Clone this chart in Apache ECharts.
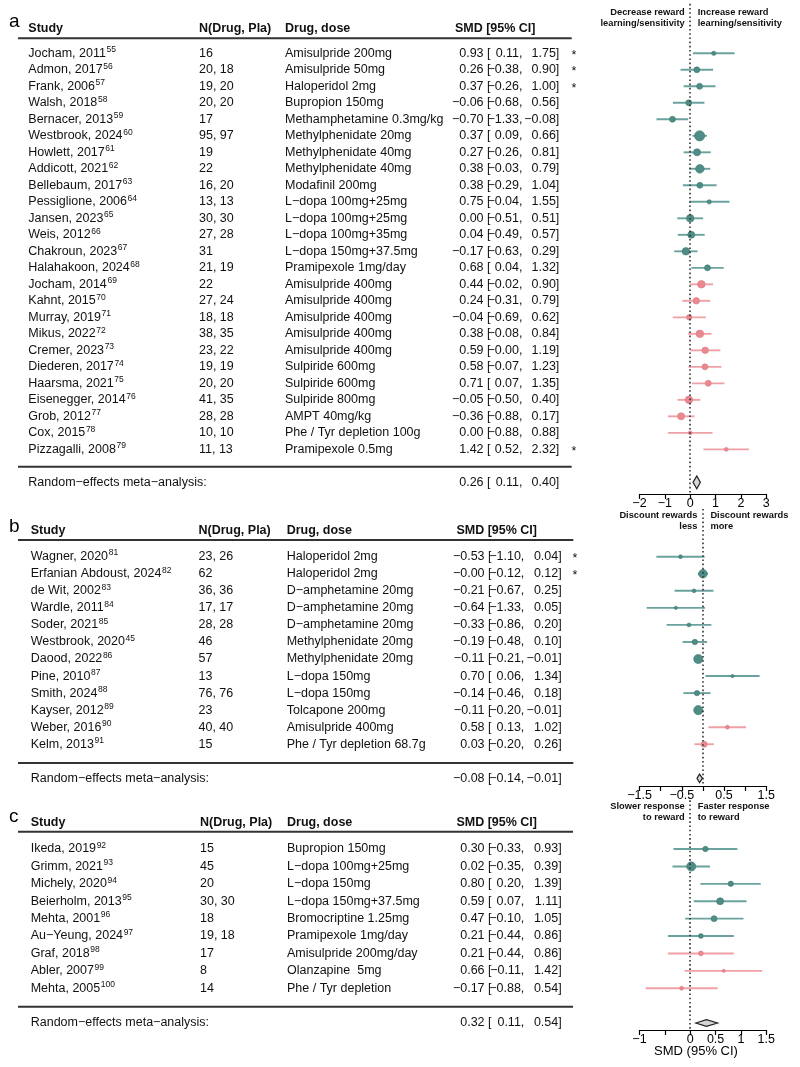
<!DOCTYPE html>
<html><head><meta charset="utf-8">
<script src="https://cdn.jsdelivr.net/npm/echarts@6/dist/echarts.min.js"></script>
<style>html,body{margin:0;padding:0;background:#fff}#c{width:800px;height:1067px}</style>
</head><body><div id="c"></div>
<script>
// ---------------- DATA ----------------
// Panel a: reward learning / sensitivity
const studyA = ['Jocham, 2011','Admon, 2017','Frank, 2006','Walsh, 2018','Bernacer, 2013','Westbrook, 2024','Howlett, 2017','Addicott, 2021','Bellebaum, 2017','Pessiglione, 2006','Jansen, 2023','Weis, 2012','Chakroun, 2023','Halahakoon, 2024','Jocham, 2014','Kahnt, 2015','Murray, 2019','Mikus, 2022','Cremer, 2023','Diederen, 2017','Haarsma, 2021','Eisenegger, 2014','Grob, 2012','Cox, 2015','Pizzagalli, 2008'];
const refA = [55,56,57,58,59,60,61,62,63,64,65,66,67,68,69,70,71,72,73,74,75,76,77,78,79];
const nA = ['16','20, 18','19, 20','20, 20','17','95, 97','19','22','16, 20','13, 13','30, 30','27, 28','31','21, 19','22','27, 24','18, 18','38, 35','23, 22','19, 19','20, 20','41, 35','28, 28','10, 10','11, 13'];
const drugA = ['Amisulpride 200mg','Amisulpride 50mg','Haloperidol 2mg','Bupropion 150mg','Methamphetamine 0.3mg/kg','Methylphenidate 20mg','Methylphenidate 40mg','Methylphenidate 40mg','Modafinil 200mg','L\u2212dopa 100mg+25mg','L\u2212dopa 100mg+25mg','L\u2212dopa 100mg+35mg','L\u2212dopa 150mg+37.5mg','Pramipexole 1mg/day','Amisulpride 400mg','Amisulpride 400mg','Amisulpride 400mg','Amisulpride 400mg','Amisulpride 400mg','Sulpiride 600mg','Sulpiride 600mg','Sulpiride 800mg','AMPT 40mg/kg','Phe / Tyr depletion 100g','Pramipexole 0.5mg'];
const estA = [0.93,0.26,0.37,-0.06,-0.70,0.37,0.27,0.38,0.38,0.75,0.00,0.04,-0.17,0.68,0.44,0.24,-0.04,0.38,0.59,0.58,0.71,-0.05,-0.36,0.00,1.42];
const loA  = [0.11,-0.38,-0.26,-0.68,-1.33,0.09,-0.26,-0.03,-0.29,-0.04,-0.51,-0.49,-0.63,0.04,-0.02,-0.31,-0.69,-0.08,-0.00,-0.07,0.07,-0.50,-0.88,-0.88,0.52];
const hiA  = [1.75,0.90,1.00,0.56,-0.08,0.66,0.81,0.79,1.04,1.55,0.51,0.57,0.29,1.32,0.90,0.79,0.62,0.84,1.19,1.23,1.35,0.40,0.17,0.88,2.32];
const starA = [1,1,1,0,0,0,0,0,0,0,0,0,0,0,0,0,0,0,0,0,0,0,0,0,1];
const classA = ['up','up','up','up','up','up','up','up','up','up','up','up','up','up','down','down','down','down','down','down','down','down','down','down','down'];
const weightA = [4,7.6,7.6,7.6,7.6,22.6,10.6,16,7.6,4,12.3,10.6,12.3,7.6,12.3,9,6.3,12.3,9,7.6,7.6,12.3,10.6,3.1,3.1];
const summaryA = [0.26,0.11,0.40];

// Panel b: discounting
const studyB = ['Wagner, 2020','Erfanian Abdoust, 2024','de Wit, 2002','Wardle, 2011','Soder, 2021','Westbrook, 2020','Daood, 2022','Pine, 2010','Smith, 2024','Kayser, 2012','Weber, 2016','Kelm, 2013'];
const refB = [81,82,83,84,85,45,86,87,88,89,90,91];
const nB = ['23, 26','62','36, 36','17, 17','28, 28','46','57','13','76, 76','23','40, 40','15'];
const drugB = ['Haloperidol 2mg','Haloperidol 2mg','D\u2212amphetamine 20mg','D\u2212amphetamine 20mg','D\u2212amphetamine 20mg','Methylphenidate 20mg','Methylphenidate 20mg','L\u2212dopa 150mg','L\u2212dopa 150mg','Tolcapone 200mg','Amisulpride 400mg','Phe / Tyr depletion 68.7g'];
const estB = [-0.53,-0.00,-0.21,-0.64,-0.33,-0.19,-0.11,0.70,-0.14,-0.11,0.58,0.03];
const loB  = [-1.10,-0.12,-0.67,-1.33,-0.86,-0.48,-0.21,0.06,-0.46,-0.20,0.13,-0.20];
const hiB  = [0.04,0.12,0.25,0.05,0.20,0.10,-0.01,1.34,0.18,-0.01,1.02,0.26];
const starB = [1,1,0,0,0,0,0,0,0,0,0,0];
const classB = ['up','up','up','up','up','up','up','up','up','up','down','down'];
const weightB = [3.1,16,3.1,2.3,3.1,6.3,18,2.3,6.3,18,3.1,7.6];
const summaryB = [-0.08,-0.14,-0.01];

// Panel c: response vigour
const studyC = ['Ikeda, 2019','Grimm, 2021','Michely, 2020','Beierholm, 2013','Mehta, 2001','Au\u2212Yeung, 2024','Graf, 2018','Abler, 2007','Mehta, 2005'];
const refC = [92,93,94,95,96,97,98,99,100];
const nC = ['15','45','20','30, 30','18','19, 18','17','8','14'];
const drugC = ['Bupropion 150mg','L\u2212dopa 100mg+25mg','L\u2212dopa 150mg','L\u2212dopa 150mg+37.5mg','Bromocriptine 1.25mg','Pramipexole 1mg/day','Amisulpride 200mg/day','Olanzapine  5mg','Phe / Tyr depletion'];
const estC = [0.30,0.02,0.80,0.59,0.47,0.21,0.21,0.66,-0.17];
const loC  = [-0.33,-0.35,0.20,0.07,-0.10,-0.44,-0.44,-0.11,-0.88];
const hiC  = [0.93,0.39,1.39,1.11,1.05,0.86,0.86,1.42,0.54];
const starC = [0,0,0,0,0,0,0,0,0];
const classC = ['up','up','up','up','up','up','down','down','down'];
const weightC = [6.3,18,6.3,10.6,7.6,5,5,2.3,3.1];
const summaryC = [0.32,0.11,0.54];

const ticksA = [-2,-1,0,1,2,3];
const ticksB = [-1.5,-0.5,0.5,1.5];
const ticksC = [-1,0,0.5,1,1.5];

const dirA = [['Decrease reward','learning/sensitivity'],['Increase reward','learning/sensitivity']];
const dirB = [['Discount rewards','less'],['Discount rewards','more']];
const dirC = [['Slower response','to reward'],['Faster response','to reward']];

// ---------------- LAYOUT / STYLE ----------------
const FONT = '"Liberation Sans", Arial, Helvetica, sans-serif';
const COL = {
  up:   {fill:'#4f8c86', line:'#6aa39d', edge:'#3e7a74'},
  down: {fill:'#eb8990', line:'#f0a1a7', edge:'#d8767e'}
};
const panels = [
  {tag:'a', study:studyA, ref:refA, n:nA, drug:drugA, est:estA, lo:loA, hi:hiA, star:starA, cls:classA, w:weightA, sum:summaryA,
   ticks:ticksA, dir:dirA, xMin:-2, xMax:3, interval:1,
   top:3.8, height:490.1, yMin:-3, yMax:26.7,
   colX:[28.3,199,285], x1:490.5, x2:522.5, x3:559.3, starX:571.5, lineR:571.7, smdR:535.5,
   hdr:-1.52, hLine:-0.91, bLine:1.05, dH:6.5, tagY:21.7},
  {tag:'b', study:studyB, ref:refB, n:nB, drug:drugB, est:estB, lo:loB, hi:hiB, star:starB, cls:classB, w:weightB, sum:summaryB,
   ticks:ticksB, dir:dirB, xMin:-1.5, xMax:1.5, interval:0.5,
   top:509, height:277, yMin:-2.8, yMax:13.45,
   colX:[30.7,198.5,286.7], x1:491.5, x2:524.3, x3:561.7, starX:572.5, lineR:573.3, smdR:537,
   hdr:-1.52, hLine:-0.98, bLine:1.1, dH:4.2, tagY:526.7},
  {tag:'c', study:studyC, ref:refC, n:nC, drug:drugC, est:estC, lo:loC, hi:hiC, star:starC, cls:classC, w:weightC, sum:summaryC,
   ticks:ticksC, dir:dirC, xMin:-1, xMax:1.5, interval:0.5,
   top:800.3, height:229.7, yMin:-2.8, yMax:10.4,
   colX:[30.7,200,287], x1:491.5, x2:524.3, x3:561.7, starX:572.5, lineR:573, smdR:537,
   hdr:-1.53, hLine:-0.99, bLine:1.06, dH:3.4, tagY:816.7}
];

function fmt(v){
  const neg = v < 0 || Object.is(v,-0);
  return (neg ? '\u2212' : '') + Math.abs(v).toFixed(2);
}
function fmtTick(v){
  return (v < 0 ? '\u2212' : '') + String(Math.abs(v));
}
const measureCtx = document.createElement('canvas').getContext('2d');
function textWidth(s, size){
  measureCtx.font = size + 'px ' + FONT;
  return measureCtx.measureText(s).width;
}

const chart = echarts.init(document.getElementById('c'), null, {renderer:'canvas', width:800, height:1067});

const grid = [], xAxis = [], yAxis = [], series = [];
panels.forEach((P, k) => {
  grid.push({left:639.5, width:126.8, top:P.top, height:P.height, containLabel:false, outerBoundsMode:'none'});
  xAxis.push({type:'value', gridIndex:k, min:P.xMin, max:P.xMax, interval:P.interval, position:'bottom',
    axisLine:{show:true, onZero:false, lineStyle:{color:'#000', width:1.2}},
    axisTick:{show:true, inside:false, length:5, lineStyle:{color:'#000', width:1.2}},
    axisLabel:{show:true, margin:3, fontSize:12.5, color:'#000', fontFamily:FONT, hideOverlap:false,
      showMinLabel:true, showMaxLabel:true,
      formatter: v => P.ticks.some(t => Math.abs(t - v) < 1e-9) ? fmtTick(v) : ''},
    splitLine:{show:false}});
  yAxis.push({type:'value', gridIndex:k, inverse:true, min:P.yMin, max:P.yMax, show:false,
    splitLine:{show:false}});
  const data = P.est.map((e, i) => [i, e, P.lo[i], P.hi[i], P.w[i], P.cls[i] === 'up' ? 0 : 1]);
  series.push({
    type:'custom', xAxisIndex:k, yAxisIndex:k, coordinateSystem:'cartesian2d', silent:true,
    encode:{x:[1,2,3], y:0},
    data,
    renderItem:(params, api) => {
      const i = api.value(0), e = api.value(1), lo = api.value(2), hi = api.value(3), w = api.value(4);
      const c = api.value(5) === 0 ? COL.up : COL.down;
      const pe = api.coord([e, i]), pl = api.coord([lo, i]), ph = api.coord([hi, i]);
      return {type:'group', children:[
        {type:'line', shape:{x1:pl[0], y1:pl[1], x2:ph[0], y2:ph[1]}, style:{stroke:c.line, lineWidth:1.9}},
        {type:'circle', shape:{cx:pe[0], cy:pe[1], r:1.08 * Math.sqrt(w)}, style:{fill:c.fill, stroke:c.edge, lineWidth:0.6}}
      ]};
    },
    markLine:{silent:true, symbol:'none', animation:false,
      label:{show:false},
      lineStyle:{type:[1.6,2.6], color:'#333', width:1.6},
      data:[{xAxis:0}]},
    z:3
  });
  const sIdx = P.est.length + 1;
  series.push({
    type:'custom', xAxisIndex:k, yAxisIndex:k, coordinateSystem:'cartesian2d', silent:true,
    encode:{x:[1,2,3], y:0},
    data:[[sIdx, P.sum[0], P.sum[1], P.sum[2]]],
    renderItem:(params, api) => {
      const y = api.value(0);
      const pl = api.coord([api.value(2), y]), pe = api.coord([api.value(1), y]), ph = api.coord([api.value(3), y]);
      return {type:'polygon', shape:{points:[[pl[0],pl[1]],[pe[0],pe[1]-P.dH],[ph[0],ph[1]],[pe[0],pe[1]+P.dH]]},
        style:{fill:'#d6d6d6', stroke:'#222', lineWidth:1.2}};
    },
    z:4
  });
});

chart.setOption({animation:false, backgroundColor:'#fff', grid, xAxis, yAxis, series});

// ---------------- TABLE TEXT ----------------
const G = [];
function txt(x, y, text, o){
  return {type:'text', x, y, silent:true, z:10,
    style:Object.assign({text, fill:'#111', fontSize:12.5, fontFamily:FONT, align:'left', verticalAlign:'middle'}, o || {})};
}
function hline(x1, x2, y){
  return {type:'line', silent:true, z:10, shape:{x1, y1:y, x2, y2:y}, style:{stroke:'#333', lineWidth:2}};
}
panels.forEach((P, k) => {
  const Y = v => chart.convertToPixel({gridIndex:k}, [0, v])[1];
  const X0 = chart.convertToPixel({gridIndex:k}, [0, 0])[0];
  const hy = Y(P.hdr);
  // panel tag
  G.push(txt(9, P.tagY, P.tag, {fontSize:19, fill:'#000'}));
  // headers
  const B = {fontWeight:'bold'};
  G.push(txt(P.colX[0], hy, 'Study', B));
  G.push(txt(P.colX[1], hy, 'N(Drug, Pla)', B));
  G.push(txt(P.colX[2], hy, 'Drug, dose', B));
  G.push(txt(P.smdR, hy, 'SMD [95% CI]', Object.assign({align:'right'}, B)));
  G.push(hline(18, P.lineR, Y(P.hLine)));
  // direction labels
  const D = {fontSize:9.3, fontWeight:'bold', fill:'#111'};
  G.push(txt(X0 - 5.5, hy - 15.8, P.dir[0][0], Object.assign({align:'right'}, D)));
  G.push(txt(X0 - 5.5, hy - 4.5, P.dir[0][1], Object.assign({align:'right'}, D)));
  G.push(txt(X0 + 7.5, hy - 15.8, P.dir[1][0], D));
  G.push(txt(X0 + 7.5, hy - 4.5, P.dir[1][1], D));
  // rows
  P.study.forEach((s, i) => {
    const y = Y(i);
    G.push(txt(P.colX[0], y, s));
    G.push(txt(P.colX[0] + textWidth(s, 12.5) + 0.6, y - 3.6, String(P.ref[i]), {fontSize:8.5}));
    G.push(txt(P.colX[1], y, P.n[i]));
    G.push(txt(P.colX[2], y, P.drug[i]));
    G.push(txt(P.x1, y, fmt(P.est[i]) + ' [', {align:'right'}));
    G.push(txt(P.x2, y, fmt(P.lo[i]) + ',', {align:'right'}));
    G.push(txt(P.x3, y, fmt(P.hi[i]) + ']', {align:'right'}));
    if (P.star[i]) G.push(txt(P.starX, y + 2, '*', {fontSize:12.5}));
  });
  const last = P.study.length - 1;
  G.push(hline(18, P.lineR, Y(last + P.bLine)));
  const sy = Y(last + 2);
  G.push(txt(P.colX[0], sy, 'Random\u2212effects meta\u2212analysis:'));
  G.push(txt(P.x1, sy, fmt(P.sum[0]) + ' [', {align:'right'}));
  G.push(txt(P.x2, sy, fmt(P.sum[1]) + ',', {align:'right'}));
  G.push(txt(P.x3, sy, fmt(P.sum[2]) + ']', {align:'right'}));
});
G.push(txt(696, 1051.7, 'SMD (95% CI)', {align:'center', fontSize:13, fill:'#000'}));

chart.setOption({graphic:G});
</script>
</body></html>
